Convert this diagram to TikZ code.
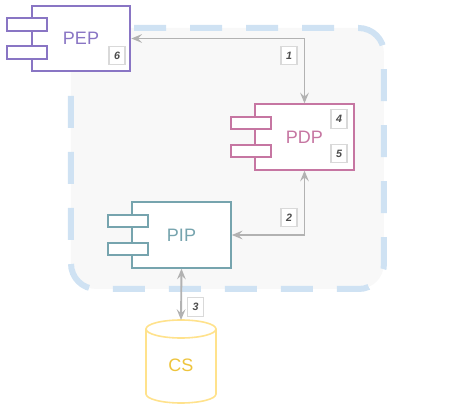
\documentclass[tikz,border=0pt]{standalone}
\usepackage{fontspec}
\setsansfont{Liberation Sans}
\usepackage{xcolor}
\usetikzlibrary{arrows.meta, positioning}

\definecolor{domline}{RGB}{207,226,243}
\definecolor{domfill}{RGB}{248,248,248}
\definecolor{pepcol}{RGB}{137,117,196}
\definecolor{pdpcol}{RGB}{198,118,162}
\definecolor{pipcol}{RGB}{118,164,174}
\definecolor{csline}{RGB}{255,226,140}
\definecolor{cstext}{RGB}{238,196,60}

\begin{document}
\begin{tikzpicture}[x=0.75pt, y=-0.75pt,
        comp/.style={rectangle, draw, line width=1.5pt, fill=white, minimum width=74pt, minimum height=49pt, font=\sffamily\fontsize{13.5}{16}\selectfont},
        tab/.style={rectangle, draw, line width=1.5pt, fill=white, minimum width=30pt, minimum height=9.5pt, inner sep=0pt},
        badge/.style={rectangle, draw=gray!30, line width=0.8pt, fill=white, minimum width=12pt, minimum height=14pt, inner sep=0pt, font=\sffamily\bfseries\itshape\fontsize{8}{9}\selectfont, text=black!70},
        link/.style={draw=gray!60, line width=1.4pt, {Stealth[length=8pt, width=6.5pt, inset=3pt]}-{Stealth[length=8pt, width=6.5pt, inset=3pt]}}]
        \useasboundingbox (0,0) rectangle (462,410);

        % trust domain
        \draw[draw=domline, fill=domfill, line width=4.5pt, dash pattern=on 24pt off 18pt, dash phase=10pt, rounded corners=19pt] (71,28) rectangle (384,289);

        \node[comp, draw=pepcol, text=pepcol] (pep) at (81, 38.5) {PEP};
        \node[comp, draw=pdpcol, text=pdpcol] (pdp) at (304.5, 137) {PDP};
        \node[comp, draw=pipcol, text=pipcol] (pip) at (181.5, 235) {PIP};

        \foreach \n/\c in {pep/pepcol, pdp/pdpcol, pip/pipcol} {
            \node[tab, draw=\c] (\n-t1) at ([shift={(-3.5,-14)}]\n.west) {};
            \node[tab, draw=\c] (\n-t2) at ([shift={(-3.5,14)}]\n.west) {};
        }

        % store
        \draw[draw=csline, line width=1.2pt, fill=white] (146,329) -- (146,394)
            arc[start angle=180, end angle=0, x radius=35, y radius=9] -- (216,329);
        \draw[draw=csline, line width=1.2pt, fill=white] (181,329) ellipse[x radius=35, y radius=9];
        \coordinate (cs-top) at (181,320);
        \node[font=\sffamily\fontsize{13.5}{16}\selectfont, text=cstext] (cs) at (181,365) {CS};

        \draw[link] (pep.east) -| (pdp.north);
        \draw[link] (pdp.south) |- (pip.east);
        \draw[link] (pip.south) -- (cs-top);

        \node[badge] (b1) at (289, 55.5) {1};
        \node[badge] (b2) at (289, 217.5) {2};
        \node[badge] (b3) at (195.5, 307) {3};
        \node[badge] (b4) at (339, 119) {4};
        \node[badge] (b5) at (339, 153.5) {5};
        \node[badge] (b6) at (117, 55.5) {6};
    \end{tikzpicture}
\end{document}
